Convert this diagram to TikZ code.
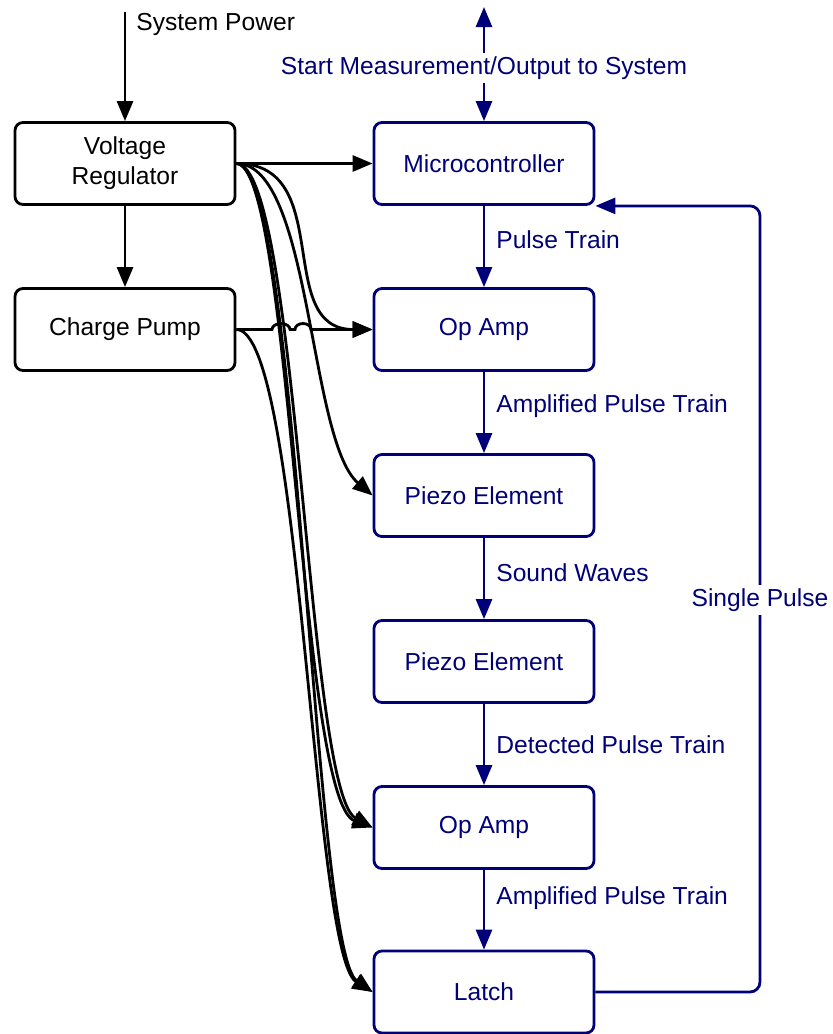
\documentclass[tikz,border=0pt]{standalone}
\usepackage{fontspec}
\setmainfont{Liberation Sans}
\usetikzlibrary{arrows.meta}
\definecolor{navyblue}{RGB}{0,0,120}
\begin{document}
\begin{tikzpicture}[x=0.5pt,y=-0.5pt,
  font=\fontsize{12.3}{15}\selectfont,
  box/.style={draw, rectangle, rounded corners=4pt, line width=1.4pt,
    minimum width=110pt, minimum height=41pt, inner sep=0pt, align=center},
  lbox/.style={box, draw=black, text=black},
  rbox/.style={box, draw=navyblue, text=navyblue},
  wire/.style={line width=1.4pt, -{Triangle[length=10pt,width=8pt]}},
  bwire/.style={wire, draw=black},
  nwire/.style={wire, draw=navyblue},
  lbl/.style={text=navyblue, anchor=west, inner sep=0pt},
  tag/.style={text=navyblue, fill=white, inner sep=2pt}]
\useasboundingbox (0,0) rectangle (832,1034);

% power side
\node[lbox] (vr) at (125,163.5) {Voltage\\Regulator};
\node[lbox] (cp) at (125,329.5) {Charge Pump};

% signal chain
\node[rbox] (mcu)   at (484,163.5) {Microcontroller};
\node[rbox] (op1)   at (484,329.5) {Op Amp};
\node[rbox] (pz1)   at (484,495.5) {Piezo Element};
\node[rbox] (pz2)   at (484,661.5) {Piezo Element};
\node[rbox] (op2)   at (484,827.5) {Op Amp};
\node[rbox] (latch) at (484,992)   {Latch};

% external connections
\coordinate (pwr) at (125,12);
\coordinate (ext) at (484,7);
\coordinate (loopx) at (760,600);

\draw[bwire] (pwr) -- (vr.north);
\node[anchor=west, inner sep=0pt] (pwrtxt) at (136,24) {System Power};

\draw[navyblue, line width=1.4pt, {Triangle[length=10pt,width=8pt]}-{Triangle[length=10pt,width=8pt]}] (ext) -- (mcu.north);
\node[tag] (exttxt) at (484,68) {Start Measurement/Output to System};

% chain arrows
\draw[nwire] (mcu) -- (op1);
\draw[nwire] (op1) -- (pz1);
\draw[nwire] (pz1) -- (pz2);
\draw[nwire] (pz2) -- (op2);
\draw[nwire] (op2) -- (latch);
\node[lbl] (l1) at (496,240) {Pulse Train};
\node[lbl] (l2) at (496,406) {Amplified Pulse Train};
\node[lbl] (l3) at (496,573) {Sound Waves};
\node[lbl] (l4) at (496,745) {Detected Pulse Train};
\node[lbl] (l5) at (496,898) {Amplified Pulse Train};

% feedback loop
\draw[nwire, rounded corners=5pt] (latch.east) -- (latch.east -| loopx)
  -- (mcu.south east -| loopx) -- (mcu.south east);
\node[tag] (looptxt) at (loopx) {Single Pulse};

% supply rails
\draw[bwire] (vr) -- (cp);
\draw[bwire] (vr.east) -- (mcu.west);
\draw[bwire] (vr.east) .. controls +(100,0) and +(-100,0) .. (op1.west);
\draw[bwire] (vr.east) .. controls +(75,0) and +(-64,-55) .. (pz1.west);
\draw[bwire] (vr.east) .. controls +(55,0) and +(-73,-27) .. (op2.west);
\draw[bwire] (vr.east) .. controls +(62,0) and +(-66,-36) .. (op2.west);
\draw[bwire] (vr.east) .. controls +(62,0) and +(-60,-42) .. (latch.west);
\draw[bwire] (cp.east) .. controls +(65,0) and +(-60,-37) .. (latch.west);
\draw[bwire] (cp.east) -- (272,329.5)
  arc[start angle=180, end angle=360, x radius=9, y radius=6] -- (295,329.5)
  arc[start angle=180, end angle=360, x radius=8, y radius=6] -- (op1.west);
\end{tikzpicture}
\end{document}
